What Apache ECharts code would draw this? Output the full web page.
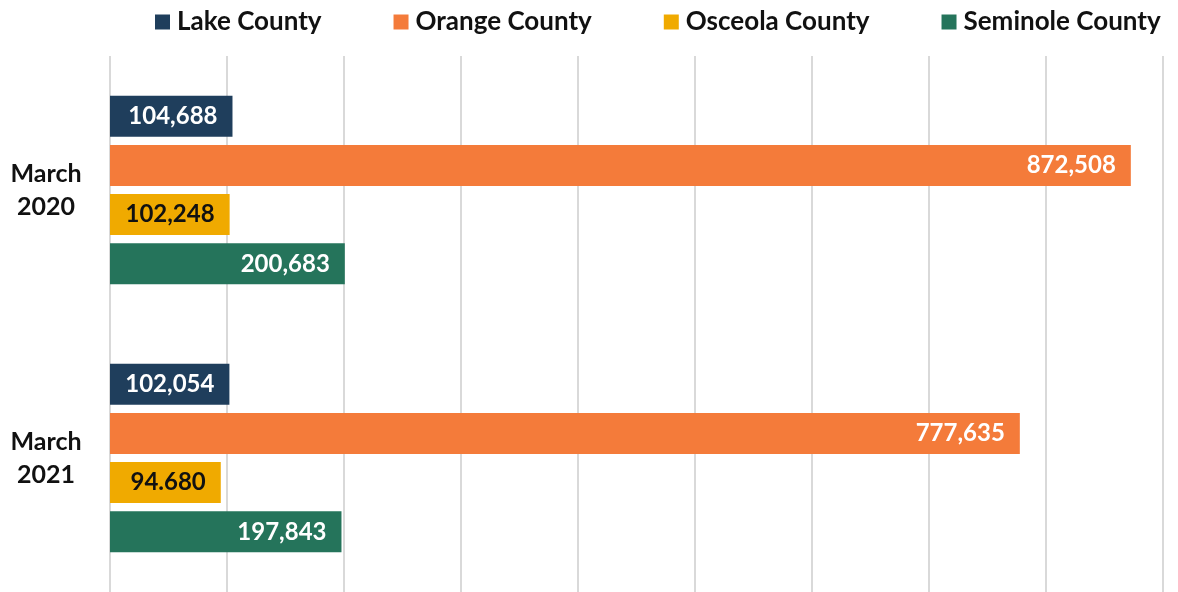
<!DOCTYPE html>
<html>
<head>
<meta charset="utf-8">
<title>County chart</title>
<script src="https://cdn.jsdelivr.net/npm/echarts@6/dist/echarts.min.js"></script>
<style>
	html, body { margin: 0; padding: 0; background: #fff; }
	#barChart { width: 1178px; height: 592px; }
</style>
</head>
<body>
<div id="barChart"></div>
<script>
var categories = ['March\n2020', 'March\n2021'];
var seriesNames = ['Lake County', 'Orange County', 'Osceola County', 'Seminole County'];
var lakeData = [104688, 102054];
var orangeData = [872508, 777635];
var osceolaData = [102248, 94680];
var seminoleData = [200683, 197843];
// labels as printed on the original (incl. the "94.680")
var osceolaLabels = ['102,248', '94.680'];

var myColor = ['#1F3E5C', '#F47B3A', '#F0AA00', '#25745B'];
var fontName = 'Lato';

function commas(v) {
	return v.toString().replace(/\B(?=(\d{3})+(?!\d))/g, ',');
}

function makeSeries(name, data, idx, textColor, fmt) {
	return {
		name: name,
		type: 'bar',
		barWidth: 41,
		barGap: '20%',
		data: data,
		itemStyle: {
			color: myColor[idx]
		},
		label: {
			show: true,
			position: 'insideRight',
			distance: 15,
			color: textColor,
			fontFamily: fontName,
			fontWeight: 'bold',
			fontSize: 24,
			formatter: fmt || function(p) {
				return commas(p.value);
			}
		}
	};
}

var barChart = echarts.init(document.getElementById('barChart'));
barChart.setOption({
	animation: false,
	legend: {
		left: 155,
		top: 9,
		width: 1100,
		padding: 0,
		itemWidth: 15,
		itemHeight: 15,
		itemGap: 72,
		icon: 'rect',
		data: seriesNames,
		textStyle: {
			color: '#111',
			fontFamily: fontName,
			fontWeight: 'bold',
			fontSize: 26,
			padding: [0, 0, 0, 2]
		}
	},
	grid: {
		left: 110,
		right: 15,
		top: 56,
		bottom: 0
	},
	xAxis: {
		type: 'value',
		min: 0,
		max: 900000,
		interval: 100000,
		axisLabel: { show: false },
		axisLine: { show: false },
		axisTick: { show: false },
		splitLine: {
			lineStyle: {
				color: '#D9D9D9',
				width: 2
			}
		}
	},
	yAxis: {
		type: 'category',
		inverse: true,
		data: categories,
		axisLine: { show: false },
		axisTick: { show: false },
		axisLabel: {
			margin: 64,
			align: 'center',
			color: '#111',
			fontFamily: fontName,
			fontWeight: 'bold',
			fontSize: 25,
			lineHeight: 33
		}
	},
	series: [
		makeSeries(seriesNames[0], lakeData, 0, '#fff'),
		makeSeries(seriesNames[1], orangeData, 1, '#fff'),
		makeSeries(seriesNames[2], osceolaData, 2, '#111', function(p) {
			return osceolaLabels[p.dataIndex];
		}),
		makeSeries(seriesNames[3], seminoleData, 3, '#fff')
	]
});
</script>
</body>
</html>
